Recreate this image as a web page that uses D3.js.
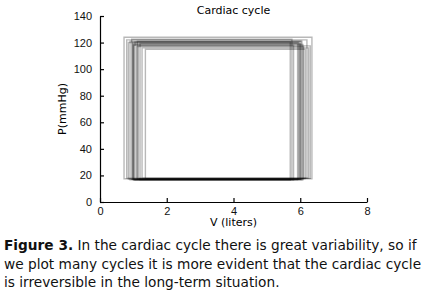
<!DOCTYPE html>
<html>
<head>
<meta charset="utf-8">
<script src="https://cdn.jsdelivr.net/npm/d3@7"></script>
<style>
    body { margin: 0; background: #fff; }
    svg { display: block; font-family: "DejaVu Sans", sans-serif; }
    .axis path, .axis line { stroke: #000; stroke-width: 1.2; }
    .axis text { font-size: 11px; fill: #111; }
</style>
</head>
<body>
<div id="chart"></div>
<script>
// one entry per cardiac cycle: volume (liters) and pressure (mmHg) limits
const vMin = [0.72, 0.80, 0.90, 0.98, 0.99, 1.00, 1.05, 1.10, 1.12, 1.20, 1.26, 1.36, 0.95, 1.02, 0.85, 1.15];
const vMax = [6.35, 6.20, 6.05, 5.95, 6.00, 5.80, 5.70, 6.10, 6.02, 5.92, 6.25, 6.15, 5.75, 6.08, 5.98, 6.30];
const pMax = [124, 122, 121, 120, 119, 118, 120.5, 117, 121, 119.5, 116, 115, 122.5, 118.5, 120, 117.5];
const pMin = [17.5, 18, 16.8, 17.2, 17, 16.6, 16.5, 17.4, 17, 16.8, 18, 17.6, 17.1, 16.7, 17.3, 17.8];

const xTicks = [0, 2, 4, 6, 8];
const yTicks = [0, 20, 40, 60, 80, 100, 120, 140];

const title = 'Cardiac cycle';
const xLabel = 'V (liters)';
const yLabel = 'P(mmHg)';
const captionLines = [
    ['Figure 3.', ' In the cardiac cycle there is great variability, so if'],
    ['', 'we plot many cycles it is more evident that the cardiac cycle'],
    ['', 'is irreversible in the long-term situation.']
];

const width = 423, height = 296;
const margin = {left: 100, right: 56, top: 16, bottom: 94};

const svg = d3.select('#chart').append('svg')
    .attr('width', width)
    .attr('height', height);

const xScale = d3.scaleLinear()
    .domain([0, 8])
    .range([margin.left, width - margin.right]);
const yScale = d3.scaleLinear()
    .domain([0, 140])
    .range([height - margin.bottom, margin.top]);

const cycles = vMin.map((v, i) => [
    [v, pMin[i]], [vMax[i], pMin[i]], [vMax[i], pMax[i]], [v, pMax[i]]
]);

const line = d3.line()
    .x(d => xScale(d[0]))
    .y(d => yScale(d[1]))
    .curve(d3.curveLinearClosed);

svg.append('g')
    .selectAll('path')
    .data(cycles)
    .join('path')
    .attr('d', line)
    .attr('fill', 'none')
    .attr('stroke', '#000')
    .attr('stroke-opacity', 0.28)
    .attr('stroke-width', 1.4);

// axes with inward ticks
const xAxis = d3.axisBottom(xScale)
    .tickValues(xTicks)
    .tickSize(-4)
    .tickSizeOuter(0)
    .tickPadding(5);
const yAxis = d3.axisLeft(yScale)
    .tickValues(yTicks)
    .tickSize(-4)
    .tickSizeOuter(0)
    .tickPadding(8);

svg.append('g')
    .attr('class', 'axis')
    .attr('transform', `translate(0, ${yScale(0)})`)
    .call(xAxis);
svg.append('g')
    .attr('class', 'axis')
    .attr('transform', `translate(${xScale(0)}, 0)`)
    .call(yAxis);

svg.append('text')
    .attr('x', xScale(4))
    .attr('y', 14)
    .attr('text-anchor', 'middle')
    .attr('font-size', 11)
    .text(title);

svg.append('text')
    .attr('x', xScale(4))
    .attr('y', 226)
    .attr('text-anchor', 'middle')
    .attr('font-size', 11)
    .text(xLabel);

svg.append('text')
    .attr('transform', `translate(66, ${yScale(70)}) rotate(-90)`)
    .attr('text-anchor', 'middle')
    .attr('font-size', 11)
    .text(yLabel);

const caption = svg.append('g');
captionLines.forEach((parts, i) => {
    const t = caption.append('text')
        .attr('x', 4)
        .attr('y', 250 + i * 18.5)
        .attr('font-size', 13.7)
        .attr('fill', '#111');
    if (parts[0]) {
        t.append('tspan').attr('font-weight', 'bold').text(parts[0]);
    }
    t.append('tspan').text(parts[1]);
});
</script>
</body>
</html>
